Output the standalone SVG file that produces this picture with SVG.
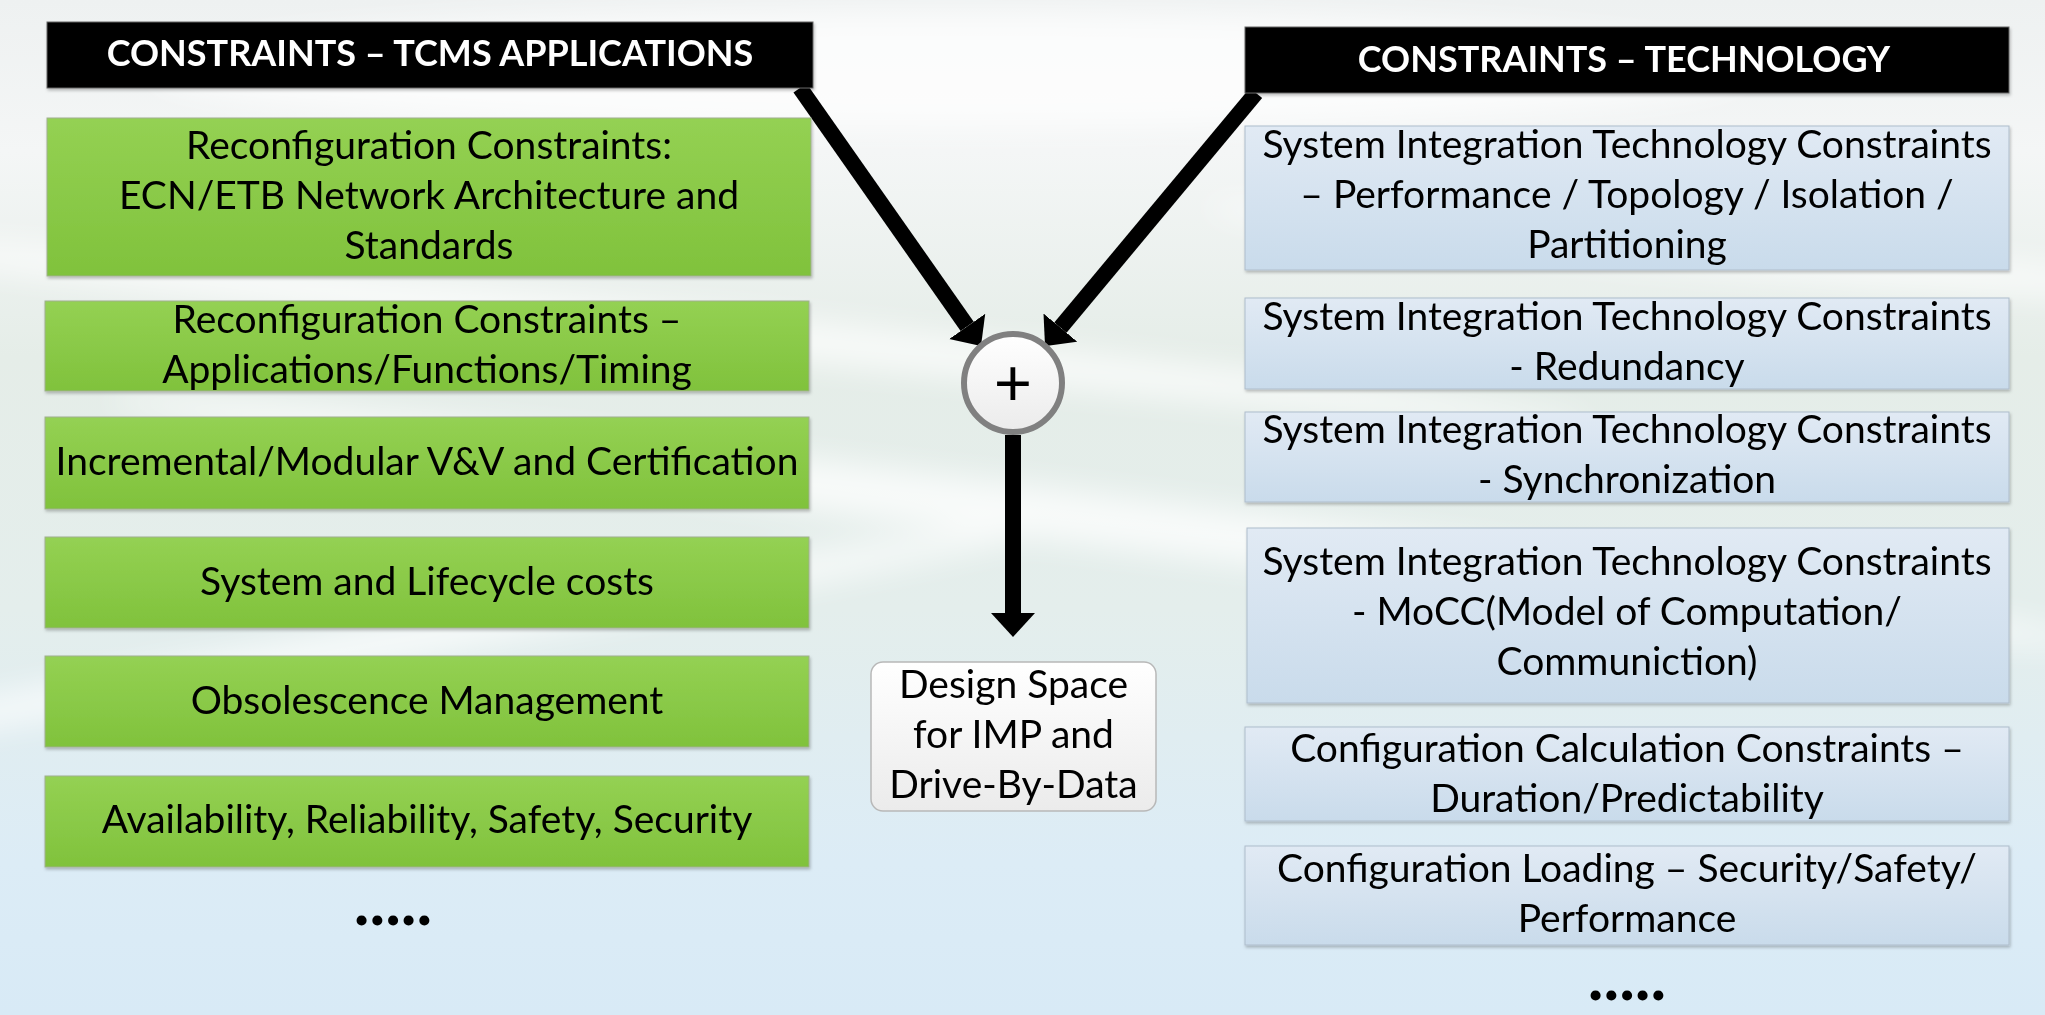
<svg xmlns="http://www.w3.org/2000/svg" width="2045" height="1015" viewBox="0 0 2045 1015">
<defs>
<linearGradient id="bg" x1="0" y1="0" x2="0" y2="1">
<stop offset="0" stop-color="#eef1f1"/>
<stop offset="0.15" stop-color="#f4f6f6"/>
<stop offset="0.35" stop-color="#e5ede8"/>
<stop offset="0.6" stop-color="#e4eeec"/>
<stop offset="0.85" stop-color="#dcecf6"/>
<stop offset="1" stop-color="#d8eaf6"/>
</linearGradient>
<linearGradient id="gr" x1="0" y1="0" x2="0" y2="1">
<stop offset="0" stop-color="#94d153"/>
<stop offset="1" stop-color="#80c23c"/>
</linearGradient>
<linearGradient id="bl" x1="0" y1="0" x2="0" y2="1">
<stop offset="0" stop-color="#e1eaf4"/>
<stop offset="1" stop-color="#c9dbeb"/>
</linearGradient>
<linearGradient id="wh" x1="0" y1="0" x2="0" y2="1">
<stop offset="0" stop-color="#ffffff"/>
<stop offset="1" stop-color="#ebebeb"/>
</linearGradient>
<filter id="blur" x="-20%" y="-50%" width="140%" height="200%"><feGaussianBlur stdDeviation="16"/></filter>
<filter id="sh" x="-5%" y="-10%" width="110%" height="130%"><feDropShadow dx="1" dy="2" stdDeviation="1.5" flood-color="#000" flood-opacity="0.25"/></filter>
<marker id="ah" markerUnits="userSpaceOnUse" markerWidth="26" markerHeight="46" refX="0" refY="22" orient="auto" viewBox="0 0 26 46">
<path d="M0,0 L24,22 L0,44 z" fill="#000"/>
</marker>
<style>
.t{font-family:Lato,"Liberation Sans",sans-serif;font-size:39px;fill:#000;text-anchor:middle}
.h{font-family:Lato,"Liberation Sans",sans-serif;font-size:36px;font-weight:bold;fill:#fff;text-anchor:middle}
.d{font-family:Lato,"Liberation Sans",sans-serif;font-size:66px;font-weight:bold;fill:#000;text-anchor:middle}
.g{fill:url(#gr);stroke:#9fb08f;stroke-width:1;filter:url(#sh)}
.b{fill:url(#bl);stroke:#aebdcb;stroke-width:1;filter:url(#sh)}
.k{fill:#000;stroke:#666;stroke-width:1;filter:url(#sh)}
.c{stroke:#000;stroke-width:16;fill:none;marker-end:url(#ah)}
</style>
</defs>
<rect width="2045" height="1015" fill="url(#bg)"/>
<g opacity="0.75" filter="url(#blur)">
<ellipse cx="700" cy="330" rx="900" ry="20" fill="#fff" transform="rotate(6 700 330)"/>
<ellipse cx="1100" cy="520" rx="1000" ry="26" fill="#fff" transform="rotate(7 1100 520)"/>
<ellipse cx="400" cy="640" rx="700" ry="18" fill="#fff" transform="rotate(-10 400 640)"/>
<ellipse cx="1700" cy="250" rx="500" ry="18" fill="#fff" transform="rotate(5 1700 250)"/>
<ellipse cx="950" cy="70" rx="800" ry="60" fill="#fff"/>
</g>

<g id="connectors">
<line class="c" x1="800" y1="88" x2="967.2" y2="326.4"/>
<line class="c" x1="1256" y1="93" x2="1060.4" y2="327.6"/>
<line class="c" x1="1013" y1="435" x2="1013" y2="613"/>
</g>

<g id="hdr-left">
<rect class="k" x="47" y="22" width="766" height="66"/>
<text class="h" x="430" y="66">CONSTRAINTS – TCMS APPLICATIONS</text>
</g>
<g id="hdr-right">
<rect class="k" x="1245" y="27" width="764" height="66"/>
<text class="h" x="1624" y="72">CONSTRAINTS – TECHNOLOGY</text>
</g>

<g id="l1"><rect class="g" x="47" y="118" width="764" height="158"/>
<text class="t" x="429" y="159">Reconfiguration Constraints:</text>
<text class="t" x="429" y="209">ECN/ETB Network Architecture and</text>
<text class="t" x="429" y="259">Standards</text></g>
<g id="l2"><rect class="g" x="45" y="301" width="764" height="90"/>
<text class="t" x="427" y="333">Reconfiguration Constraints –</text>
<text class="t" x="427" y="383">Applications/Functions/Timing</text></g>
<g id="l3"><rect class="g" x="45" y="417" width="764" height="92"/>
<text class="t" x="427" y="475">Incremental/Modular V&amp;V and Certification</text></g>
<g id="l4"><rect class="g" x="45" y="537" width="764" height="91"/>
<text class="t" x="427" y="595">System and Lifecycle costs</text></g>
<g id="l5"><rect class="g" x="45" y="656" width="764" height="91"/>
<text class="t" x="427" y="714">Obsolescence Management</text></g>
<g id="l6"><rect class="g" x="45" y="776" width="764" height="91"/>
<text class="t" x="427" y="833">Availability, Reliability, Safety, Security</text></g>
<g id="l-more"><text class="d" x="393" y="925">.....</text></g>

<g id="r1"><rect class="b" x="1245" y="126" width="764" height="144"/>
<text class="t" x="1627" y="158">System Integration Technology Constraints</text>
<text class="t" x="1627" y="208">– Performance / Topology / Isolation /</text>
<text class="t" x="1627" y="258">Partitioning</text></g>
<g id="r2"><rect class="b" x="1245" y="298" width="764" height="91"/>
<text class="t" x="1627" y="330">System Integration Technology Constraints</text>
<text class="t" x="1627" y="380">- Redundancy</text></g>
<g id="r3"><rect class="b" x="1245" y="412" width="764" height="90"/>
<text class="t" x="1627" y="443">System Integration Technology Constraints</text>
<text class="t" x="1627" y="493">- Synchronization</text></g>
<g id="r4"><rect class="b" x="1247" y="528" width="762" height="175"/>
<text class="t" x="1627" y="575">System Integration Technology Constraints</text>
<text class="t" x="1627" y="625">- MoCC(Model of Computation/</text>
<text class="t" x="1627" y="675">Communiction)</text></g>
<g id="r5"><rect class="b" x="1245" y="727" width="764" height="94"/>
<text class="t" x="1627" y="762">Configuration Calculation Constraints –</text>
<text class="t" x="1627" y="812">Duration/Predictability</text></g>
<g id="r6"><rect class="b" x="1245" y="846" width="764" height="99"/>
<text class="t" x="1627" y="882">Configuration Loading – Security/Safety/</text>
<text class="t" x="1627" y="932">Performance</text></g>
<g id="r-more"><text class="d" x="1627" y="1000">.....</text></g>

<g id="plus">
<circle cx="1013" cy="383" r="49" fill="url(#wh)" stroke="#808080" stroke-width="6"/>
<text class="t" x="1013" y="406" style="font-size:66px">+</text>
</g>
<g id="design-space">
<rect x="871" y="662" width="285" height="149" rx="12" fill="url(#wh)" stroke="#b8b8b8" stroke-width="1.5"/>
<text class="t" x="1013.5" y="698">Design Space</text>
<text class="t" x="1013.5" y="748">for IMP and</text>
<text class="t" x="1013.5" y="798">Drive-By-Data</text>
</g>
</svg>
